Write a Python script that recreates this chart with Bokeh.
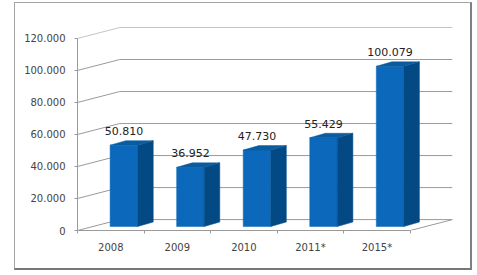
from bokeh.plotting import figure
from bokeh.models import FixedTicker, Range1d, ColumnDataSource
from bokeh.embed import file_html
from bokeh.resources import INLINE
from bokeh.core.properties import value

categories = ["2008", "2009", "2010", "2011*", "2015*"]
values = [50810, 36952, 47730, 55429, 100079]
value_labels = ["50.810", "36.952", "47.730", "55.429", "100.079"]
y_ticks = [0, 20000, 40000, 60000, 80000, 100000, 120000]
y_tick_labels = ["0", "20.000", "40.000", "60.000", "80.000", "100.000", "120.000"]

FONT = "DejaVu Sans"
GRID = "#9a9a9a"
DX, DY = 0.635, 6820          # full depth of the 3D box, in data units
BAR_L, BAR_R = 0.264, 0.678   # bar front face within a category
D1 = 0.226                    # depth of bar front
D2 = 0.46                     # depth of bar back
DY1, DY2 = 2500, 5300

p = figure(width=455, height=265, output_backend="svg", toolbar_location=None,
           x_range=Range1d(0, 5.635), y_range=Range1d(0, 127450),
           min_border_left=62, min_border_right=21, min_border_top=23, min_border_bottom=41,
           background_fill_color="white", border_fill_color="white")
# the chart's own grey frame, with its heavier right and bottom edges
p.styles = {"position": "absolute", "left": "14px", "top": "2px", "box-sizing": "content-box",
            "border-top": "1px solid #a4a4a4", "border-left": "1px solid #a4a4a4",
            "border-right": "2px solid #808080", "border-bottom": "2px solid #777777"}
p.outline_line_color = None
p.grid.visible = False

# walls
xs, ys, cols = [], [], []
for t in y_ticks:
    xs.append([0, DX, 5 + DX])
    ys.append([t, t + DY, t + DY])
    cols.append("#c4c4c4" if t == 120000 else GRID)
xs.append([5, 5 + DX]); ys.append([0, DY]); cols.append(GRID)
p.multi_line(xs, ys, line_color=cols, line_width=1)

# bars
n = range(len(values))
lefts = [i + BAR_L + D1 for i in n]
rights = [i + BAR_R + D1 for i in n]
p.quad(left=lefts, right=rights, bottom=[DY1] * 5, top=[DY1 + v for v in values],
       fill_color="#0b68ba", line_color="#0b68ba", line_width=0.5)
dxb, dyb = D2 - D1, DY2 - DY1
p.patches([[r, r + dxb, r + dxb, r] for r in rights],
          [[DY1, DY2, DY2 + v, DY1 + v] for v in values],
          fill_color="#034a84", line_color="#034a84", line_width=0.5)
p.patches([[l, l + dxb, r + dxb, r] for l, r in zip(lefts, rights)],
          [[DY1 + v, DY2 + v, DY2 + v, DY1 + v] for v in values],
          fill_color="#0a5c9f", line_color="#0a5c9f", line_width=0.5)

# value labels
src = ColumnDataSource(dict(x=[(l + r) / 2 for l, r in zip(lefts, rights)],
                            y=[DY1 + v for v in values], t=value_labels))
p.text("x", "y", text="t", source=src, text_font=value(FONT), text_font_size="11px",
       text_color="#222222", text_align="center", text_baseline="middle", y_offset=-14)

# axes
ya = p.yaxis[0]
ya.ticker = FixedTicker(ticks=y_ticks)
ya.bounds = (0, 120000)
ya.major_label_overrides = dict(zip(y_ticks, y_tick_labels))
ya.major_label_text_font = FONT
ya.major_label_text_font_size = "10px"
ya.major_label_text_color = "#444444"
ya.major_tick_in = 0
ya.major_tick_out = 3
ya.minor_tick_line_color = None
ya.axis_line_color = GRID
ya.major_tick_line_color = GRID
ya.major_label_standoff = 9

centers = [i + 0.5 for i in n]
xa = p.xaxis[0]
xa.ticker = FixedTicker(ticks=centers, minor_ticks=list(range(len(values) + 1)))
xa.bounds = (0, 5)
xa.major_label_overrides = dict(zip(centers, categories))
xa.major_label_text_font = FONT
xa.major_label_text_font_size = "10px"
xa.major_label_text_color = "#444444"
xa.major_tick_line_color = None
xa.minor_tick_in = 0
xa.minor_tick_out = 3
xa.minor_tick_line_color = GRID
xa.axis_line_color = GRID
xa.major_label_standoff = 5

open("out.html", "w").write(file_html(p, INLINE))
